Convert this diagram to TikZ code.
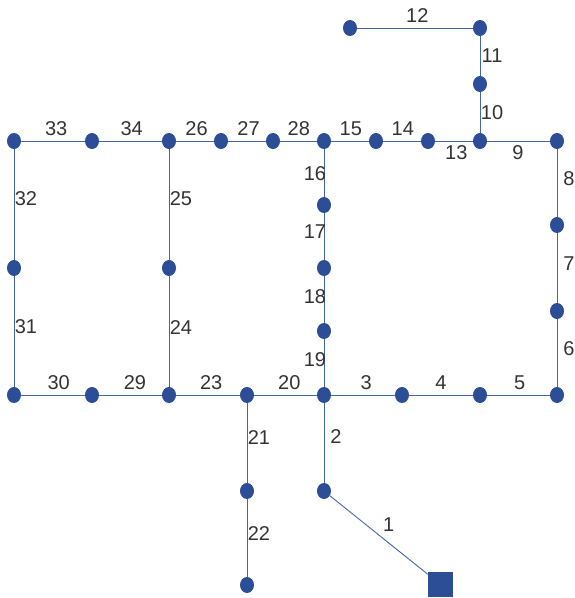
\documentclass[tikz,border=0pt]{standalone}
\usepackage{fontspec}
\setmainfont{Liberation Sans}
\usetikzlibrary{shapes.geometric}
\definecolor{busblue}{HTML}{2B4E96}
\definecolor{wireblue}{HTML}{4466AA}
\definecolor{labgray}{HTML}{333333}
\begin{document}
\begin{tikzpicture}[x=1pt,y=-1pt,
    bus/.style={ellipse,fill=busblue,inner sep=0pt,
                minimum width=14pt,minimum height=16pt},
    src/.style={rectangle,fill=busblue,inner sep=0pt,minimum size=25pt},
    wire/.style={wireblue,line width=0.9pt},
    lab/.style={font=\fontsize{20}{20}\selectfont,text=labgray,inner sep=0pt},
    labup/.style={lab,yshift=12pt},
    labdn/.style={lab,yshift=-12pt},
    labr/.style={lab,xshift=12pt},
    labl/.style={lab,xshift=-9pt}]
  \useasboundingbox (0,0) rectangle (575,598);
  % source and buses
  \node[src] (b0) at (440.5,584.5) {};
  \node[bus] (b1) at (324,491) {};
  \node[bus] (b2) at (324,395) {};
  \node[bus] (b3) at (402,395) {};
  \node[bus] (b4) at (480,395) {};
  \node[bus] (b5) at (557,395) {};
  \node[bus] (b6) at (557,311) {};
  \node[bus] (b7) at (557,225) {};
  \node[bus] (b8) at (557,141) {};
  \node[bus] (b9) at (480,141) {};
  \node[bus] (b10) at (480,84) {};
  \node[bus] (b11) at (480,28) {};
  \node[bus] (b12) at (350,28) {};
  \node[bus] (b13) at (428,141) {};
  \node[bus] (b14) at (376,141) {};
  \node[bus] (b15) at (324,141) {};
  \node[bus] (b16) at (324,205) {};
  \node[bus] (b17) at (324,268) {};
  \node[bus] (b18) at (324,331) {};
  \node[bus] (b20) at (247,395) {};
  \node[bus] (b21) at (247,491) {};
  \node[bus] (b22) at (247,585) {};
  \node[bus] (b23) at (169,395) {};
  \node[bus] (b24) at (169,268) {};
  \node[bus] (b26) at (169,141) {};
  \node[bus] (b27) at (221,141) {};
  \node[bus] (b28) at (273,141) {};
  \node[bus] (b29) at (92,395) {};
  \node[bus] (b30) at (14,395) {};
  \node[bus] (b31) at (14,268) {};
  \node[bus] (b32) at (14,141) {};
  \node[bus] (b33) at (92,141) {};
  % branches
  \draw[wire] (b1) -- node[lab,pos=.6,yshift=18pt]{1} (b0);
  \draw[wire] (b2) -- node[labr,pos=.42]{2} (b1);
  \draw[wire] (b2) -- node[labup,pos=.55]{3} (b3);
  \draw[wire] (b3) -- node[labup,pos=.5]{4} (b4);
  \draw[wire] (b4) -- node[labup,pos=.52]{5} (b5);
  \draw[wire] (b5) -- node[labr,pos=.56]{6} (b6);
  \draw[wire] (b6) -- node[labr,pos=.56]{7} (b7);
  \draw[wire] (b7) -- node[labr,pos=.56]{8} (b8);
  \draw[wire] (b8) -- node[labdn,pos=.51]{9} (b9);
  \draw[wire] (b9) -- node[labr,pos=.49]{10} (b10);
  \draw[wire] (b10) -- node[labr,pos=.5]{11} (b11);
  \draw[wire] (b11) -- node[labup,pos=.48]{12} (b12);
  \draw[wire] (b9) -- node[labdn,pos=.44]{13} (b13);
  \draw[wire] (b13) -- node[labup,pos=.48]{14} (b14);
  \draw[wire] (b14) -- node[labup,pos=.48]{15} (b15);
  \draw[wire] (b15) -- node[labl,pos=.52]{16} (b16);
  \draw[wire] (b16) -- node[labl,pos=.4]{17} (b17);
  \draw[wire] (b17) -- node[labl,pos=.43]{18} (b18);
  \draw[wire] (b18) -- node[labl,pos=.42]{19} (b2);
  \draw[wire] (b2) -- node[labup,pos=.44]{20} (b20);
  \draw[wire] (b20) -- node[labr,pos=.43]{21} (b21);
  \draw[wire] (b21) -- node[labr,pos=.44]{22} (b22);
  \draw[wire] (b20) -- node[labup,pos=.45]{23} (b23);
  \draw[wire] (b23) -- node[labr,pos=.54]{24} (b24);
  \draw[wire] (b24) -- node[labr,pos=.55]{25} (b26);
  \draw[wire] (b27) -- node[labup,pos=.46]{26} (b26);
  \draw[wire] (b28) -- node[labup,pos=.46]{27} (b27);
  \draw[wire] (b15) -- node[labup,pos=.49]{28} (b28);
  \draw[wire] (b23) -- node[labup,pos=.43]{29} (b29);
  \draw[wire] (b29) -- node[labup,pos=.41]{30} (b30);
  \draw[wire] (b30) -- node[labr,pos=.54]{31} (b31);
  \draw[wire] (b31) -- node[labr,pos=.55]{32} (b32);
  \draw[wire] (b32) -- node[labup,pos=.55]{33} (b33);
  \draw[wire] (b33) -- node[labup,pos=.52]{34} (b26);
\end{tikzpicture}
\end{document}
